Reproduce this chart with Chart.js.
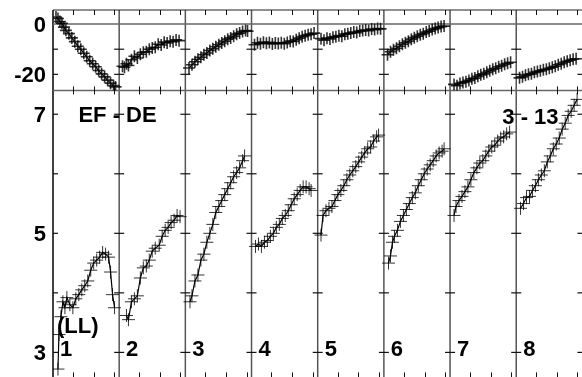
<!DOCTYPE html>
<html>
<head>
<meta charset="utf-8">
<script src="https://cdn.jsdelivr.net/npm/chart.js@4"></script>
<style>
  html, body { margin: 0; padding: 0; background: #fff; overflow: hidden; width: 582px; height: 377px; }
  canvas { display: block; }
</style>
</head>
<body>
<canvas id="c" width="590" height="385"></canvas>
<script>
// panel labels and axis ticks
const panelLabels = ["1", "2", "3", "4", "5", "6", "7", "8"];
const topTicks = [-20, -10, 0];
const topLabels = { "0": "0", "-20": "-20" };
const lowTicks = [3, 4, 5, 6, 7];
const lowLabels = { "3": "3", "5": "5", "7": "7" };
const xTickFrac = [0.3, 0.615, 0.925];

// upper strip: position inside panel (0..1) and value
const topX = [
  [0.045,0.075,0.105,0.135,0.165,0.195,0.24,0.285,0.33,0.375,0.42,0.465,0.51,0.555,0.6,0.645,0.69,0.735,0.78,0.825,0.87,0.915,0.945],
  [0.05,0.08,0.11,0.14,0.185,0.23,0.275,0.32,0.365,0.41,0.455,0.5,0.545,0.59,0.635,0.68,0.725,0.77,0.815,0.86,0.905],
  [0.055,0.1,0.145,0.19,0.235,0.28,0.325,0.37,0.415,0.46,0.505,0.55,0.595,0.64,0.685,0.73,0.775,0.82,0.865,0.91,0.94],
  [0.045,0.09,0.135,0.18,0.225,0.27,0.315,0.36,0.405,0.45,0.495,0.54,0.585,0.63,0.675,0.72,0.765,0.81,0.855,0.9,0.945],
  [0.05,0.095,0.14,0.185,0.23,0.275,0.32,0.365,0.41,0.455,0.5,0.545,0.59,0.635,0.68,0.725,0.77,0.815,0.86,0.905,0.95],
  [0.055,0.1,0.145,0.19,0.235,0.28,0.325,0.37,0.415,0.46,0.505,0.55,0.595,0.64,0.685,0.73,0.775,0.82,0.865,0.91],
  [0.06,0.105,0.15,0.195,0.24,0.285,0.33,0.375,0.42,0.465,0.51,0.555,0.6,0.645,0.69,0.735,0.78,0.825,0.87,0.915],
  [0.05,0.095,0.14,0.185,0.23,0.275,0.32,0.365,0.41,0.455,0.5,0.545,0.59,0.635,0.68,0.725,0.77,0.815,0.86,0.905]
];
const topY = [
  [2.8,2.2,1.0,0.3,-1.2,-2.5,-3.8,-5.5,-7.0,-8.8,-10.0,-11.6,-13.0,-14.6,-15.8,-17.0,-18.5,-19.8,-21.0,-22.3,-23.5,-24.5,-25.0],
  [-16.8,-17.2,-15.8,-16.5,-14.2,-12.8,-13.5,-12.0,-11.2,-11.0,-10.0,-9.5,-9.2,-8.0,-8.3,-7.2,-7.5,-6.8,-7.0,-6.3,-6.6],
  [-17.5,-16.2,-15.0,-14.0,-13.2,-12.2,-11.5,-10.5,-9.8,-9.0,-8.2,-7.5,-6.8,-6.0,-5.5,-4.8,-4.0,-3.6,-3.0,-2.6,-2.8],
  [-8.2,-7.4,-7.8,-7.2,-7.6,-7.3,-7.9,-7.5,-7.7,-7.4,-7.8,-7.3,-6.8,-6.9,-6.2,-5.6,-5.0,-4.6,-4.2,-4.0,-3.6],
  [-5.8,-6.4,-5.6,-5.9,-5.2,-5.0,-4.6,-4.8,-4.0,-3.8,-3.6,-3.2,-3.4,-2.8,-2.6,-2.4,-2.6,-2.0,-2.2,-1.8,-1.9],
  [-12.2,-11.0,-10.2,-9.6,-8.8,-8.0,-7.4,-6.8,-6.0,-5.4,-4.8,-4.2,-3.8,-3.2,-2.8,-2.2,-1.8,-1.4,-1.0,-0.8],
  [-24.0,-24.5,-23.6,-23.2,-22.9,-22.4,-21.8,-21.5,-20.8,-20.2,-19.8,-19.2,-18.6,-18.0,-17.6,-17.0,-16.6,-16.0,-15.6,-15.2],
  [-21.4,-21.0,-20.4,-20.0,-19.8,-19.2,-18.9,-18.6,-18.2,-18.0,-17.6,-17.2,-16.8,-16.2,-15.8,-15.2,-14.8,-14.4,-14.0,-13.8]
];

// lower strip
const lowX = [
  [0.075,0.09,0.12,0.15,0.18,0.21,0.255,0.3,0.345,0.39,0.435,0.48,0.525,0.57,0.615,0.66,0.705,0.75,0.795,0.84,0.87,0.9,0.93],
  [0.11,0.14,0.185,0.23,0.275,0.32,0.365,0.41,0.455,0.5,0.545,0.605,0.65,0.695,0.74,0.785,0.83,0.875,0.92],
  [0.07,0.1,0.145,0.19,0.235,0.28,0.325,0.37,0.415,0.46,0.505,0.55,0.595,0.64,0.685,0.73,0.775,0.82,0.865,0.895],
  [0.06,0.105,0.15,0.195,0.24,0.285,0.33,0.375,0.42,0.465,0.51,0.555,0.6,0.645,0.69,0.735,0.78,0.825,0.87,0.9],
  [0.05,0.08,0.125,0.17,0.215,0.26,0.305,0.35,0.395,0.44,0.485,0.53,0.575,0.62,0.665,0.71,0.755,0.8,0.845,0.89,0.92],
  [0.07,0.1,0.13,0.16,0.205,0.25,0.295,0.34,0.385,0.43,0.475,0.52,0.565,0.61,0.655,0.7,0.745,0.79,0.835,0.88,0.91],
  [0.06,0.09,0.135,0.18,0.225,0.27,0.315,0.36,0.405,0.45,0.495,0.54,0.585,0.63,0.675,0.72,0.765,0.81,0.855,0.9],
  [0.065,0.11,0.155,0.2,0.245,0.29,0.335,0.38,0.425,0.47,0.515,0.56,0.605,0.65,0.695,0.74,0.785,0.83,0.875,0.92]
];
const lowY = [
  [2.72,3.3,3.6,3.85,3.75,3.92,3.8,3.75,3.9,3.97,4.05,4.12,4.2,4.38,4.5,4.55,4.6,4.68,4.65,4.6,4.35,3.97,3.75],
  [3.62,3.55,3.85,3.9,3.95,4.25,4.42,4.45,4.55,4.7,4.75,4.8,4.95,5.05,5.1,5.18,5.22,5.3,5.28],
  [3.85,3.95,4.2,4.3,4.55,4.65,4.85,5.0,5.15,5.35,5.45,5.55,5.65,5.75,5.85,5.95,6.02,6.1,6.22,6.3],
  [4.78,4.82,4.78,4.85,4.88,4.95,5.0,5.1,5.15,5.25,5.3,5.38,5.48,5.58,5.65,5.72,5.78,5.78,5.75,5.72],
  [4.97,5.3,5.38,5.42,5.45,5.55,5.65,5.72,5.8,5.9,5.98,6.05,6.12,6.2,6.28,6.35,6.42,6.45,6.55,6.62,6.65],
  [4.5,4.62,4.85,4.95,5.05,5.2,5.3,5.4,5.5,5.6,5.68,5.8,5.9,6.0,6.08,6.15,6.22,6.3,6.35,6.38,6.42],
  [5.3,5.45,5.55,5.62,5.7,5.78,5.9,6.02,6.1,6.18,6.22,6.3,6.38,6.45,6.48,6.55,6.6,6.62,6.67,6.7],
  [5.42,5.5,5.6,5.62,5.72,5.8,5.9,5.98,6.05,6.2,6.3,6.42,6.5,6.6,6.75,6.85,6.98,7.05,7.15,7.25]
];

const FONT = "'Liberation Sans', Arial, sans-serif";

function series(xs, ys, axis, r, w) {
  return xs.map((fr, k) => ({
    data: fr.map((f, i) => ({ x: k + f, y: ys[k][i] })),
    yAxisID: axis,
    showLine: true,
    borderColor: "#000",
    borderWidth: 1.2,
    pointStyle: "cross",
    pointRadius: r,
    pointBorderColor: "rgba(0,0,0,0.8)",
    pointBorderWidth: w,
    pointHoverRadius: r
  }));
}

const frame = {
  id: "frame",
  beforeDatasetsDraw(chart) {
    const { ctx, chartArea: a, scales } = chart;
    const x = scales.x, yT = scales.yTop, yL = scales.yLow;
    const sep = yT.bottom;
    const line = (x1, y1, x2, y2, col, w) => {
      ctx.beginPath();
      ctx.strokeStyle = col;
      ctx.lineWidth = w;
      ctx.moveTo(x1, y1);
      ctx.lineTo(x2, y2);
      ctx.stroke();
    };
    ctx.save();
    // panel dividers
    for (let k = 1; k < 8; k++) {
      const p = x.getPixelForValue(k);
      line(p, a.top, p, a.bottom, "#555", 1.5);
    }
    line(x.getPixelForValue(0), a.top, x.getPixelForValue(0), a.bottom, "#000", 1.5);
    line(a.left, a.top, a.right, a.top, "#222", 1);
    line(a.left, yT.getPixelForValue(0), a.right, yT.getPixelForValue(0), "#666", 1.5);
    line(a.left, sep, a.right, sep, "#666", 1.5);
    // y ticks on every divider
    for (let k = 0; k <= 8; k++) {
      const p = x.getPixelForValue(k);
      const l = k === 0 ? p : p - 5;
      topTicks.filter(v => v !== 0).forEach(v => {
        const q = yT.getPixelForValue(v);
        line(l, q, p + 5, q, "#111", 1.2);
      });
      lowTicks.forEach(v => {
        const q = yL.getPixelForValue(v);
        line(l, q, p + 5, q, "#111", 1.2);
      });
    }
    // x ticks
    for (let k = 0; k < 8; k++) {
      xTickFrac.forEach(f => {
        const p = Math.round(x.getPixelForValue(k + f)) + 0.5;
        line(p, a.top, p, a.top + 5, "#111", 1);
        line(p, sep - 4, p, sep + 4, "#111", 1);
        line(p, a.bottom - 5, p, a.bottom, "#111", 1);
      });
    }
    ctx.restore();
  },
  afterDatasetsDraw(chart) {
    const { ctx, scales } = chart;
    const x = scales.x, yL = scales.yLow;
    ctx.save();
    ctx.fillStyle = "#000";
    ctx.font = "bold 22px " + FONT;
    ctx.textBaseline = "middle";
    ctx.textAlign = "center";
    ctx.fillText("EF - DE", x.getPixelForValue(0.975), yL.getPixelForValue(6.965));
    ctx.fillText("3 - 13", x.getPixelForValue(7.215), yL.getPixelForValue(6.935));
    ctx.textAlign = "left";
    ctx.fillText("(LL)", x.getPixelForValue(0.06), yL.getPixelForValue(3.42));
    panelLabels.forEach((t, k) => {
      ctx.fillText(t, x.getPixelForValue(k + 0.105), yL.getPixelForValue(3.04));
    });
    ctx.restore();
  }
};

const yCommon = {
  type: "linear",
  position: "left",
  stack: "strips",
  grid: { display: false, drawTicks: false },
  border: { display: false },
  ticks: { color: "#000", padding: 7, labelOffset: 2, autoSkip: false, font: { family: FONT, size: 22, weight: "bold" } },
  afterFit(s) {
    s.width = 53;
    s.paddingTop = 0;
    s.paddingBottom = 0;
  }
};

new Chart(document.getElementById("c"), {
  type: "scatter",
  data: { datasets: series(lowX, lowY, "yLow", 6.5, 1).concat(series(topX, topY, "yTop", 6, 1.6)) },
  options: {
    responsive: false,
    animation: false,
    events: [],
    layout: { padding: { top: 10, right: 3, bottom: 1, left: 0 } },
    plugins: { legend: { display: false }, tooltip: { enabled: false } },
    scales: {
      x: { type: "linear", min: 0, max: 8, display: false },
      yLow: Object.assign({}, yCommon, {
        min: 2.58, max: 7.4, stackWeight: 289,
        afterBuildTicks(s) { s.ticks = lowTicks.map(v => ({ value: v })); },
        ticks: Object.assign({}, yCommon.ticks, { callback: v => lowLabels[v] || "" })
      }),
      yTop: Object.assign({}, yCommon, {
        min: -26.4, max: 5.6, stackWeight: 81,
        afterBuildTicks(s) { s.ticks = topTicks.map(v => ({ value: v })); },
        ticks: Object.assign({}, yCommon.ticks, { callback: v => topLabels[v] || "" })
      })
    }
  },
  plugins: [frame]
});
</script>
</body>
</html>
